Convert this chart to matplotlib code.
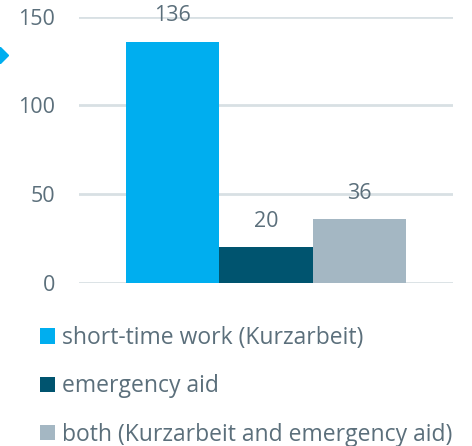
import matplotlib
matplotlib.use('Agg')
import matplotlib.pyplot as plt
from matplotlib.patches import Patch
from matplotlib.lines import Line2D

categories = ['short-time work (Kurzarbeit)', 'emergency aid',
              'both (Kurzarbeit and emergency aid)']
values = [136, 20, 36]
colors = ['#00AEEF', '#00546F', '#A4B7C3']
yticks = [0, 50, 100, 150]

text_color = '#5B6F7B'
grid_color = '#D8E0E4'

plt.rcParams['font.family'] = ['Open Sans', 'DejaVu Sans']

fig = plt.figure(figsize=(4.72, 4.46), dpi=100)
ax = fig.add_axes([79 / 472, 1 - 283 / 446, 374 / 472, 266.3 / 446])

x = list(range(len(values)))
bars = ax.bar(x, values, width=1.0, color=colors, zorder=3)
for b, v in zip(bars, values):
    ax.annotate(str(v), (b.get_x() + b.get_width() / 2, v),
                xytext=(0, 18.5), textcoords='offset points',
                ha='center', va='center', fontsize=15.5, color=text_color,
                zorder=5)

ax.set_xlim(-1.0, 3.0)
ax.set_ylim(0, 150)
ax.set_yticks(yticks)
ax.set_xticks([])
ax.yaxis.grid(True, color=grid_color, linewidth=2)
ax.set_axisbelow(True)
for s in ax.spines.values():
    s.set_visible(False)
ax.tick_params(axis='y', length=0, pad=17, labelsize=15.5, labelcolor=text_color)

# little marker at left edge
fig.add_artist(Line2D([0], [1 - 55 / 446], marker='D', markersize=8,
                      color='#00AEEF', transform=fig.transFigure,
                      clip_on=False))

handles = [Patch(facecolor=c, edgecolor='none') for c in colors]
fig.legend(handles, categories, loc='upper left',
           bbox_to_anchor=(40 / 472, 1 - 326 / 446), frameon=False,
           fontsize=16.5, labelcolor=text_color, handlelength=0.66,
           handleheight=0.66, handletextpad=0.28, labelspacing=1.06,
           borderpad=0, borderaxespad=0)

fig.savefig('out.png', dpi=100)
